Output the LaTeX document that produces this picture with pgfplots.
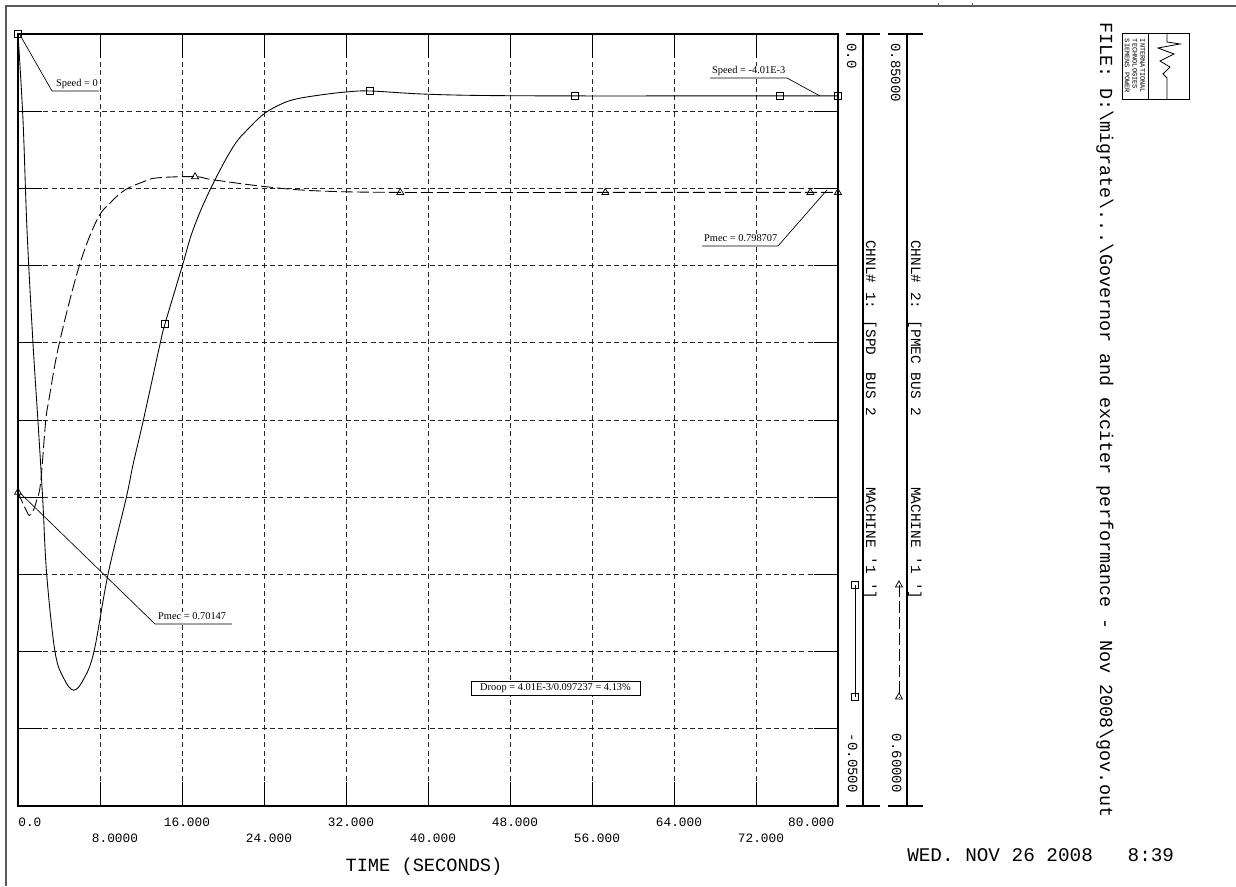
\documentclass[border=0pt]{standalone}
\usepackage{fontspec}
\setmainfont{Liberation Serif}
\newfontfamily\plotmono{Liberation Mono}
\usepackage{pgfplots}
\pgfplotsset{compat=1.18}
\begin{document}
\begin{tikzpicture}[x=0.75pt,y=0.75pt]
\path[use as bounding box] (0,0) rectangle (1236,886);
% outer frame
\draw[black!65, line width=1pt] (6,0) -- (6,880) -- (1236,880);
\draw[black!65, line width=0.6pt] (938,880) -- (938,883) (972,880) -- (972,883);

% ---------------- Channel 1: speed ----------------
\begin{axis}[
  at={(13.5pt,60pt)}, anchor=south west,
  scale only axis, width=615pt, height=579pt,
  xmin=0, xmax=80, ymin=-0.05, ymax=0,
  scaled y ticks=false, scaled x ticks=false,
  xtick={0,16,32,48,64,80},
  xticklabels={{\makebox[0pt][l]{\hspace*{-3.5pt}0.0}},16.000,32.000,48.000,64.000,{\makebox[0pt][r]{80.000\hspace*{6.5pt}}}},
  extra x ticks={8,24,40,56,72},
  extra x tick labels={{\hspace*{15pt}8.0000},24.000,40.000,56.000,72.000},
  extra x tick style={grid=major, tick label style={yshift=-12pt}},
  ytick={-0.045,-0.04,-0.035,-0.03,-0.025,-0.02,-0.015,-0.01,-0.005},
  yticklabel=\empty,
  grid=major,
  major grid style={black!85, line width=0.55pt, dash pattern=on 3.7pt off 2.6pt},
  tick align=inside, major tick length=18pt,
  tick style={black, line width=0.6pt},
  axis line style={black, line width=0.9pt},
  xticklabel style={font=\plotmono\fontsize{9.6}{10}\selectfont, anchor=base, inner sep=0pt, yshift=-15.5pt, xshift=3.75pt},
  clip=false,
]
\addplot[black, line width=0.65pt, smooth, tension=0.6] coordinates {
 (0,0) (0.49,-0.0056) (0.88,-0.0127) (1.46,-0.0200) (1.95,-0.0251)
 (2.41,-0.0301) (2.80,-0.0350) (3.61,-0.0400) (4.44,-0.0417) (5.42,-0.0425)
 (6.39,-0.0418) (7.41,-0.0400) (8.78,-0.0350) (10.54,-0.0301) (11.22,-0.0279)
 (12.2,-0.0251) (13.85,-0.0201) (14.34,-0.01878) (16.0,-0.01509) (17.07,-0.0127)
 (18.73,-0.0101) (20.98,-0.00732) (22.6,-0.00605) (24.1,-0.00512) (25.8,-0.00450)
 (27.2,-0.00420) (29.5,-0.00395) (32.1,-0.00375) (34.34,-0.00369) (39.2,-0.00388)
 (45,-0.00398) (54.34,-0.00401) (65,-0.00401) (74.34,-0.00401) (80,-0.00401)
};
\addplot[black, only marks, mark=square, mark size=2.6pt, mark options={line width=0.55pt}] coordinates {
 (0,0) (14.34,-0.01878) (34.34,-0.00369) (54.34,-0.00401) (74.34,-0.00401) (80,-0.00401)
};
% legend sample of channel 1
\addplot[black, line width=0.65pt, mark=square, mark size=2.6pt, mark options={line width=0.55pt}] coordinates {
 (81.66,-0.03569) (81.66,-0.04294)
};
\end{axis}

% ---------------- Channel 2: Pmec ----------------
\begin{axis}[
  at={(13.5pt,60pt)}, anchor=south west,
  scale only axis, width=615pt, height=579pt,
  xmin=0, xmax=80, ymin=0.6, ymax=0.85,
  hide axis, clip=false,
]
\addplot[black, line width=0.65pt, smooth, tension=0.6, dash pattern=on 9pt off 3pt] coordinates {
 (0,0.7016) (0.45,0.6982) (0.9,0.6951) (1.1,0.6941) (1.45,0.6954) (1.85,0.6993)
 (2.21,0.7048) (2.70,0.7245) (3.02,0.7316) (4.0,0.7494) (5.95,0.7746) (7.7,0.7898)
 (9.0,0.7953) (10.44,0.7995) (12.2,0.8021) (13.56,0.8034) (17.27,0.8038) (19.0,0.8028)
 (24.3,0.8005) (29.2,0.7992) (37.3,0.7987) (57.3,0.7987) (77.3,0.7987) (80,0.7987)
};
\addplot[black, only marks, mark=triangle, mark size=3pt, mark options={line width=0.55pt}] coordinates {
 (0,0.7016) (17.27,0.8038) (37.3,0.7987) (57.3,0.7987) (77.3,0.7987) (80,0.7987)
};
% legend sample of channel 2
\addplot[black, line width=0.65pt, dash pattern=on 9pt off 3pt, mark=triangle, mark size=3pt, mark options={solid, line width=0.55pt}] coordinates {
 (85.95,0.6716) (85.95,0.6353)
};
\end{axis}

% ---------------- annotations ----------------
\begin{scope}[line width=0.5pt, font=\fontsize{7.8}{8}\selectfont,
  lab/.style={anchor=base west, inner sep=0.6pt, fill=white}]
\draw (20,851) -- (52,795) -- (99,795);
\node[lab] at (55,799) {Speed = 0};
\draw (710,808) -- (787,808) -- (820,790);
\node[lab] at (711,812) {Speed = -4.01E-3};
\draw (702,640) -- (778,640) -- (827,696);
\node[lab] at (703,644) {Pmec = 0.798707};
\draw (20,393) -- (155,262) -- (232,262);
\node[lab] at (157,266) {Pmec = 0.70147};
\draw[fill=white] (471,191) rectangle (640,205);
\draw[line width=0.9pt] (472,190.3) -- (640.7,190.3) -- (640.7,204);
\node[inner sep=0] at (555.5,198) {Droop = 4.01E-3/0.097237 = 4.13\%};
\end{scope}

% x axis title and date
\node[anchor=base, inner sep=0, font=\plotmono\fontsize{14}{14}\selectfont] at (424,15) {TIME (SECONDS)};
\node[anchor=base west, inner sep=0, font=\plotmono\fontsize{14.5}{14.5}\selectfont] at (907,25) {WED. NOV 26 2008\ \ \ 8:39};

% ---------------- channel columns ----------------
\begin{scope}[line width=0.8pt]
\draw (846,852) -- (880,852) (863,852) -- (863,80) (846,80) -- (880,80);
\draw (888,852) -- (923,852) (907,852) -- (907,80) (888,80) -- (923,80);
\end{scope}
\begin{scope}[every node/.style={rotate=-90, inner sep=0, font=\plotmono\fontsize{10.5}{10.5}\selectfont}]
\node[anchor=base west] at (847,843) {0.0};
\node[anchor=base east] at (848,93) {-0.0500};
\node[anchor=base west] at (891,843) {0.85000};
\node[anchor=base east] at (892,93) {0.60000};
\end{scope}
\begin{scope}[every node/.style={rotate=-90, inner sep=0, font=\plotmono\fontsize{10.8}{10.8}\selectfont}]
\node[anchor=base west] at (866,646) {CHNL\# 1: [SPD\ \ BUS 2};
\node[anchor=base west] at (866,399) {MACHINE '1 ']};
\node[anchor=base west] at (911,646) {CHNL\# 2: [PMEC BUS 2};
\node[anchor=base west] at (911,399) {MACHINE '1 ']};
\end{scope}

% file name
\node[rotate=-90, anchor=base west, inner sep=0, font=\plotmono\fontsize{13.8}{13.8}\selectfont] at (1100,864)
 {FILE: D:\textbackslash migrate\textbackslash ...\textbackslash Governor and exciter performance - Nov 2008\textbackslash gov.out};

% logo
\draw[line width=0.7pt] (1122,787) rectangle (1189,853);
\draw[line width=0.6pt] (1148,787) -- (1148,853);
\node[rotate=-90, inner sep=0, align=left, font=\plotmono\fontsize{5.2}{5.8}\selectfont] at (1135,820)
 {INTERNATIONAL\\TECHNOLOGIES\\SIEMENS POWER};
\draw[line width=0.6pt] (1167,853) -- (1167,844) -- (1180,842) -- (1158,838) -- (1174,832) -- (1160,825) -- (1170,819) -- (1163,812) -- (1167,808) -- (1167,787);
\end{tikzpicture}
\end{document}
